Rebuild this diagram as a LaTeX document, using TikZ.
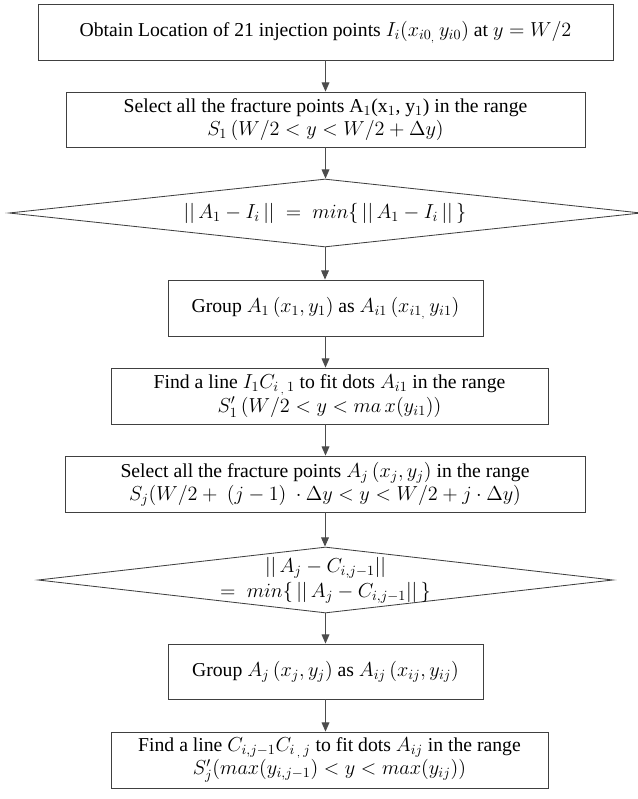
\documentclass[tikz,border=0pt]{standalone}
\usepackage{fontspec}
\setmainfont{Liberation Serif}
\usetikzlibrary{shapes.geometric,arrows.meta}

\begin{document}
\begin{tikzpicture}[x=0.025cm,y=-0.025cm,
    box/.style={draw=black!75,line width=0.6pt,rectangle,align=center,
      inner sep=0pt,font=\fontsize{14}{16.5}\selectfont},
    test/.style={draw=black!75,line width=0.6pt,diamond,inner sep=0pt},
    cond/.style={align=center,inner sep=0pt,font=\fontsize{14}{18}\selectfont},
    flow/.style={draw=black!70,line width=0.7pt,-{Triangle[length=6.5pt,width=5.5pt]}}]
  \useasboundingbox (0,0) rectangle (637,799);
  \draw
    (325.5,32) node[box,minimum width=575*0.025cm,minimum height=56*0.025cm] (b1)
      {Obtain Location of 21 injection points $I_i(x_{i0_{,}}\,y_{i0})$ at $y=W/2$}
    (325.5,119.5) node[box,minimum width=519*0.025cm,minimum height=55*0.025cm] (b2)
      {Select all the fracture points A$_1$(x$_1$, y$_1$) in the range\\
       $S_1\,(W/2<y<W/2+\Delta y)$}
    (325,213) node[test,minimum width=632*0.025cm,minimum height=68*0.025cm] (d1) {}
    (d1) node[cond] (d1t)
      {$||\,A_1-I_i\,||\;=\;min\{\,||\,A_1-I_i\,||\,\}$}
    (325.5,308) node[box,minimum width=315*0.025cm,minimum height=56*0.025cm] (b3)
      {Group $A_1\,(x_1,y_1)$ as $A_{i1}\,(x_{i1_{,}}\,y_{i1})$}
    (329.5,396) node[box,minimum width=437*0.025cm,minimum height=56*0.025cm] (b4)
      {Find a line $I_1C_{i\,_{,}\,1}$ to fit dots $A_{i1}$ in the range\\
       $S'_1\,(W/2<y<ma\,x(y_{i1}))$}
    (325,484) node[box,minimum width=520*0.025cm,minimum height=56*0.025cm] (b5)
      {Select all the fracture points $A_j\,(x_j,y_j)$ in the range\\
       $S_j(W/2+\ (j-1)\ \cdot\Delta y<y<W/2+j\cdot\Delta y)$}
    (325.5,580) node[test,minimum width=575*0.025cm,minimum height=66*0.025cm] (d2) {}
    (d2) node[cond] (d2t)
      {$||\,A_j-C_{i,j-1}||$\\ $=\;min\{\,||\,A_j-C_{i,j-1}||\,\}$}
    (325.5,671.5) node[box,minimum width=315*0.025cm,minimum height=55*0.025cm] (b6)
      {Group $A_j\,(x_j,y_j)$ as $A_{ij}\,(x_{ij},y_{ij})$}
    (329.5,760) node[box,minimum width=437*0.025cm,minimum height=56*0.025cm] (b7)
      {Find a line $C_{i,j-1}C_{i\,_{,}\,j}$ to fit dots $A_{ij}$ in the range\\
       $S'_j(max(y_{i,j-1})<y<max(y_{ij}))$};
  \begin{scope}[flow]
    \draw (b1.south) to (b1.south |- b2.north);
    \draw (b2.south) to (b2.south |- d1.north);
    \draw (d1.south) to (d1.south |- b3.north);
    \draw (b3.south) to (b3.south |- b4.north);
    \draw (b3.south |- b4.south) to (b3.south |- b5.north);
    \draw (b5.south) to (b5.south |- d2.north);
    \draw (d2.south) to (d2.south |- b6.north);
    \draw (b6.south) to (b6.south |- b7.north);
  \end{scope}
\end{tikzpicture}
\end{document}
